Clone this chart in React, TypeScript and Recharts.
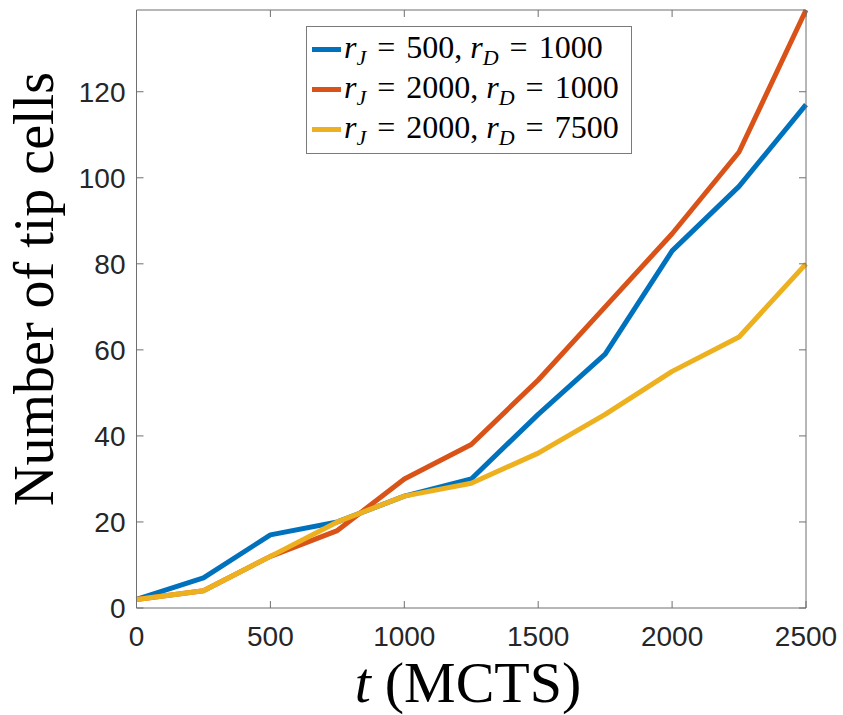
import { LineChart, Line, XAxis, YAxis } from "recharts";

const times = [0, 250, 500, 750, 1000, 1250, 1500, 1750, 2000, 2250, 2500];
const blueCells = [2, 7, 17, 20, 26, 30, 45, 59, 83, 98, 117];
const redCells = [2, 4, 12, 18, 30, 38, 53, 70, 87, 106, 139];
const yellowCells = [2, 4, 12, 20, 26, 29, 36, 45, 55, 63, 80];

const xTicks = [0, 500, 1000, 1500, 2000, 2500];
const yTicks = [0, 20, 40, 60, 80, 100, 120];

const seriesKeys = ["blue", "red", "yellow"];
const seriesColors = ["#0072BD", "#D95319", "#EDB120"];
const rJValues = [500, 2000, 2000];
const rDValues = [1000, 1000, 7500];

const data = times.map((t, i) => ({
  t,
  blue: blueCells[i],
  red: redCells[i],
  yellow: yellowCells[i],
}));

const axisColor = "#6f6f6f";
const tickFont = { fontSize: 28, fill: "#262626", fontFamily: "'Liberation Sans', Arial, sans-serif" };
const serif = "'Liberation Serif', 'Times New Roman', serif";

const sub = { fontSize: 22, position: "relative" as const, top: 7 };
const eq = { margin: "0 11px" };

function MathLegend() {
  return (
    <div
      style={{
        position: "absolute",
        left: 306,
        top: 26,
        border: "1px solid #7a7a7a",
        background: "#fff",
        padding: "2px 12px 4px 5px",
        fontFamily: serif,
        fontSize: 32,
        color: "#000",
        lineHeight: "36px",
      }}
    >
      {seriesKeys.map((k, i) => (
        <div key={k} style={{ display: "flex", alignItems: "center", whiteSpace: "nowrap" }}>
          <span style={{ display: "inline-block", width: 29, height: 5, background: seriesColors[i], marginRight: 3 }} />
          <span>
            <i>r</i>
            <i style={sub}>J</i>
            <span style={eq}>=</span>
            {rJValues[i]}, <i>r</i>
            <i style={sub}>D</i>
            <span style={eq}>=</span>
            {rDValues[i]}
          </span>
        </div>
      ))}
    </div>
  );
}

export default function App() {
  return (
    <div style={{ position: "absolute", left: 0, top: 0, width: 843, height: 715, background: "#fff" }}>
      <LineChart width={843} height={715} data={data} margin={{ top: 9, right: 36, bottom: 0, left: 0 }}>
        <XAxis
          dataKey="t"
          type="number"
          domain={[0, 2500]}
          ticks={xTicks}
          height={107}
          tick={tickFont}
          tickSize={-7}
          tickMargin={25}
          stroke={axisColor}
          label={{
            content: () => (
              <text x={468} y={702} textAnchor="middle" fontFamily={serif} fontSize={58} fill="#000">
                <tspan fontStyle="italic">t</tspan>
                <tspan dx={14}>(MCTS)</tspan>
              </text>
            ),
          }}
        />
        <XAxis
          xAxisId="top"
          orientation="top"
          dataKey="t"
          type="number"
          domain={[0, 2500]}
          ticks={xTicks}
          height={1}
          tick={() => <g />}
          tickSize={-7}
          stroke={axisColor}
        />
        <YAxis
          type="number"
          domain={[0, 139]}
          ticks={yTicks}
          width={136.5}
          tick={tickFont}
          tickSize={-7}
          tickMargin={18}
          stroke={axisColor}
          label={{
            content: () => (
              <text
                x={53}
                y={289}
                transform="rotate(-90 53 289)"
                textAnchor="middle"
                fontFamily={serif}
                fontSize={56}
                fill="#000"
              >
                Number of tip cells
              </text>
            ),
          }}
        />
        <YAxis
          yAxisId="right"
          orientation="right"
          type="number"
          domain={[0, 139]}
          ticks={yTicks}
          width={1}
          tick={() => <g />}
          tickSize={-7}
          stroke={axisColor}
        />
        {seriesKeys.map((k, i) => (
          <Line
            key={k}
            dataKey={k}
            stroke={seriesColors[i]}
            strokeWidth={5}
            strokeLinejoin="round"
            dot={false}
            isAnimationActive={false}
          />
        ))}
        <Line dataKey="red" xAxisId="top" yAxisId="right" stroke="none" dot={false} legendType="none" isAnimationActive={false} />
      </LineChart>
      <MathLegend />
    </div>
  );
}
